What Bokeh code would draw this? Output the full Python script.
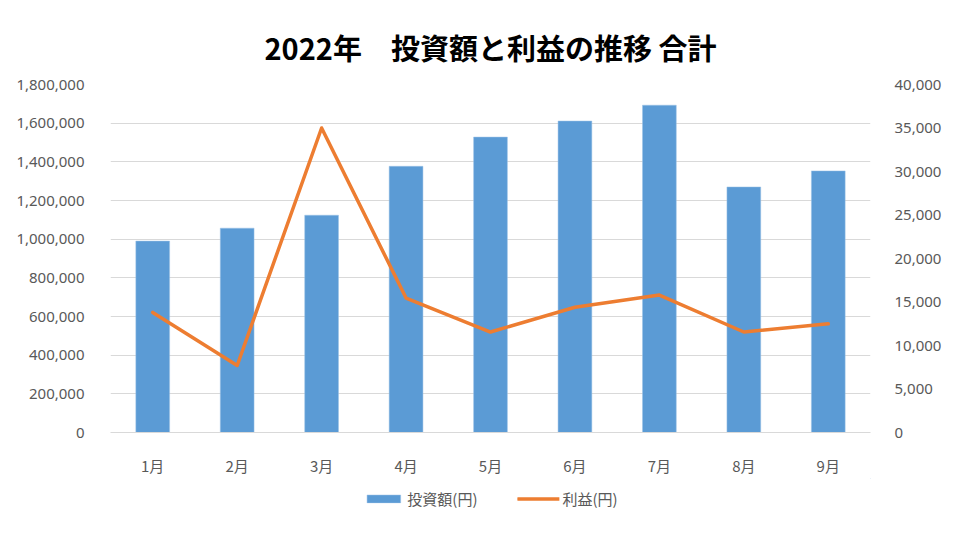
from bokeh.plotting import figure
from bokeh.layouts import column
from bokeh.models import (FactorRange, Range1d, LinearAxis, FixedTicker,
                          NumeralTickFormatter, Legend, LegendItem, ColumnDataSource)
from bokeh.embed import file_html
from bokeh.resources import INLINE

months = ["1月", "2月", "3月", "4月", "5月", "6月", "7月", "8月", "9月"]
investment = [990000, 1057000, 1124000, 1377000, 1528000, 1611000, 1693000, 1270000, 1353000]
profit = [13800, 7700, 35000, 15450, 11550, 14400, 15800, 11550, 12500]
left_ticks = [0, 200000, 400000, 600000, 800000, 1000000, 1200000, 1400000, 1600000, 1800000]
right_ticks = [0, 5000, 10000, 15000, 20000, 25000, 30000, 35000, 40000]
series_names = ["投資額(円)", "利益(円)"]

FONT = "Noto Sans CJK JP"
GREY = "#595959"
GRID = "#d9d9d9"
BAR = "#5B9BD5"
LINE = "#ED7D31"

src = ColumnDataSource(dict(month=months, inv=investment, prof=profit))

p = figure(width=944, height=478, output_backend="svg", toolbar_location=None,
           x_range=FactorRange(*months), y_range=Range1d(0, 1800000),
           min_border_left=110, min_border_right=69, min_border_top=84, min_border_bottom=45,
           title="2022年　投資額と利益の推移 合計")
p.outline_line_color = None
p.background_fill_color = "white"
p.border_fill_color = "white"

p.title.align = "center"
p.title.text_font = FONT
p.title.text_font_size = "29px"
p.title.text_font_style = "bold"
p.title.text_color = "#000000"
p.title.offset = 0
p.title.standoff = 34

p.extra_y_ranges = {"profit": Range1d(0, 40000)}

ly = p.yaxis[0]
ly.ticker = FixedTicker(ticks=left_ticks)
ly.formatter = NumeralTickFormatter(format="0,0")
ry = LinearAxis(y_range_name="profit", ticker=FixedTicker(ticks=right_ticks),
                formatter=NumeralTickFormatter(format="0,0"))
p.add_layout(ry, "right")
for ax, so in ((ly, 20), (ry, 18)):
    ax.axis_line_color = None
    ax.major_tick_line_color = None
    ax.minor_tick_line_color = None
    ax.major_label_text_font = "Noto Sans"
    ax.major_label_text_font_size = "15px"
    ax.major_label_text_color = GREY
    ax.major_label_standoff = so

cx = p.xaxis[0]
cx.axis_line_color = GRID
cx.major_tick_line_color = None
cx.minor_tick_line_color = None
cx.major_label_text_font = FONT
cx.major_label_text_font_size = "15px"
cx.major_label_text_color = GREY
cx.major_label_standoff = 16

p.ygrid.ticker = FixedTicker(ticks=left_ticks)
p.ygrid.grid_line_color = GRID
p.ygrid.grid_line_width = 1
p.xgrid.grid_line_color = None

p.vbar(x="month", top="inv", width=0.4, source=src, fill_color=BAR,
       line_color="#9DC3E6", line_width=0.5)
p.line(x="month", y="prof", source=src, y_range_name="profit",
       line_color=LINE, line_width=3.5, line_join="round", line_cap="round")

# legend strip below the chart (key glyphs sit outside the strip's visible range)
lg = figure(width=944, height=40, output_backend="svg", toolbar_location=None,
            x_range=Range1d(0, 1), y_range=Range1d(0, 1),
            x_axis_location=None, y_axis_location=None, min_border=0)
lg.outline_line_color = None
lg.grid.visible = False
lg.background_fill_color = "white"
lg.border_fill_color = "white"
kb = lg.vbar(x=[5], top=[6], bottom=[5], width=0.4, fill_color=BAR, line_color="#9DC3E6", line_width=0.5)
kl = lg.line(x=[5, 6], y=[5, 5], line_color=LINE, line_width=3.5, line_cap="round")
legend = Legend(items=[LegendItem(label=series_names[0], renderers=[kb]),
                       LegendItem(label=series_names[1], renderers=[kl])],
                orientation="horizontal", location="center",
                label_text_font=FONT, label_text_font_size="15px", label_text_color=GREY,
                glyph_width=42, glyph_height=10, spacing=40, label_standoff=3,
                border_line_color=None, background_fill_alpha=0, margin=0, padding=4)
lg.add_layout(legend, "center")

layout = column(p, lg, spacing=0)
open("out.html", "w").write(file_html(layout, INLINE))
